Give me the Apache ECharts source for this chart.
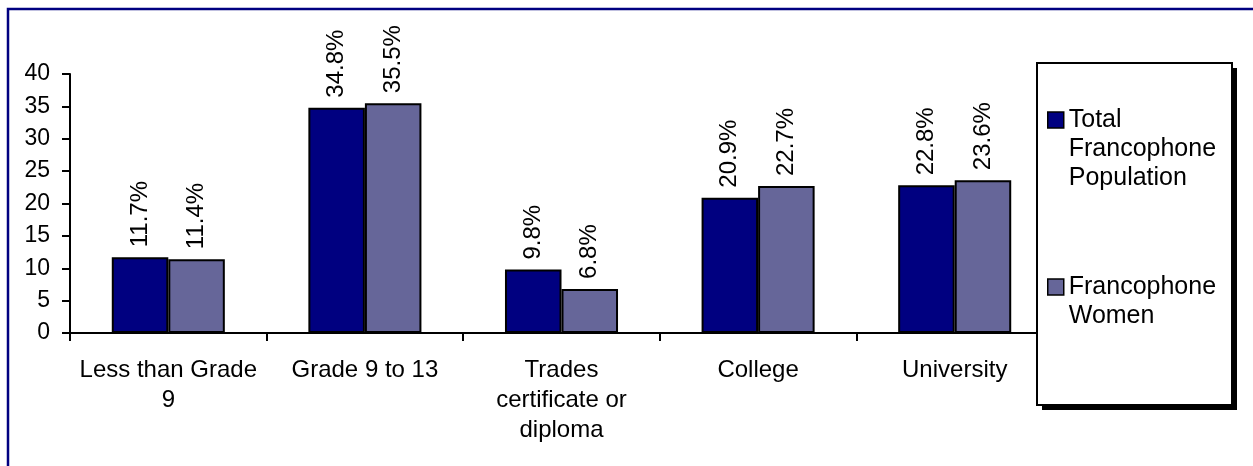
<!DOCTYPE html>
<html>
<head>
<meta charset="utf-8">
<script src="https://cdn.jsdelivr.net/npm/echarts@6/dist/echarts.min.js"></script>
<style>
html,body{margin:0;padding:0;background:#fff;}
#chart{width:1253px;height:466px;}
</style>
</head>
<body>
<div id="chart"></div>
<script>
var categories = ['Less than Grade\n9', 'Grade 9 to 13', 'Trades\ncertificate or\ndiploma', 'College', 'University'];
var seriesNames = ['Total Francophone Population', 'Francophone Women'];
var totalFrancophone = [11.7, 34.8, 9.8, 20.9, 22.8];
var francophoneWomen = [11.4, 35.5, 6.8, 22.7, 23.6];
var yTicks = [0, 5, 10, 15, 20, 25, 30, 35, 40];

var FONT = 'Arial, "Liberation Sans", sans-serif';
var chart = echarts.init(document.getElementById('chart'), null, {renderer: 'canvas'});

function barSeries(name, data, color) {
  return {
    name: name,
    type: 'bar',
    data: data,
    barGap: '0%',
    barCategoryGap: '42.5%',
    itemStyle: {color: color, borderColor: '#000', borderWidth: 2},
    label: {
      show: true,
      position: 'top',
      rotate: 90,
      align: 'left',
      verticalAlign: 'middle',
      distance: 10,
      fontFamily: FONT,
      fontSize: 24,
      color: '#000',
      formatter: function (p) { return p.value.toFixed(1) + '%'; }
    }
  };
}

// legend text: words on separate lines; blank lines above so the marker sits beside the first line
function legendText(name) {
  var words = name.split(' ');
  var pad = [];
  for (var i = 1; i < words.length; i++) pad.push('');
  return pad.concat(words).join('\n');
}

var option = {
  animation: false,
  backgroundColor: '#fff',
  textStyle: {fontFamily: FONT},
  grid: {left: 70, right: 200, top: 74, bottom: 133, containLabel: false},
  xAxis: {
    type: 'category',
    data: categories,
    axisLine: {lineStyle: {color: '#000', width: 2}},
    axisTick: {show: true, length: 8, lineStyle: {color: '#000', width: 2}},
    axisLabel: {color: '#000', fontSize: 24, lineHeight: 30, margin: 22, fontFamily: FONT, interval: 0}
  },
  yAxis: {
    type: 'value',
    min: yTicks[0],
    max: yTicks[yTicks.length - 1],
    interval: yTicks[1] - yTicks[0],
    splitLine: {show: false},
    axisLine: {show: true, lineStyle: {color: '#000', width: 2}},
    axisTick: {show: true, length: 8, lineStyle: {color: '#000', width: 2}},
    axisLabel: {color: '#000', fontSize: 23, margin: 20, fontFamily: FONT}
  },
  legend: {
    orient: 'vertical',
    left: 1047,
    top: 47.5,
    padding: 0,
    z: 20,
    itemWidth: 16,
    itemHeight: 16,
    itemGap: 51,
    icon: 'rect',
    itemStyle: {borderColor: '#000', borderWidth: 1.5},
    textStyle: {color: '#000', fontSize: 25, lineHeight: 29, fontFamily: FONT},
    formatter: legendText,
    data: [seriesNames[0], seriesNames[1]]
  },
  graphic: [
    {type: 'rect', z: 0, silent: true, shape: {x: 8, y: 9, width: 1400, height: 700},
     style: {fill: null, stroke: '#000080', lineWidth: 2.5}},
    {type: 'rect', z: 5, silent: true, shape: {x: 1042, y: 68, width: 195, height: 342},
     style: {fill: '#000'}},
    {type: 'rect', z: 6, silent: true, shape: {x: 1037, y: 63, width: 195, height: 342},
     style: {fill: '#fff', stroke: '#000', lineWidth: 2}}
  ],
  series: [
    barSeries(seriesNames[0], totalFrancophone, '#000080'),
    barSeries(seriesNames[1], francophoneWomen, '#666699')
  ]
};
chart.setOption(option);
</script>
</body>
</html>
